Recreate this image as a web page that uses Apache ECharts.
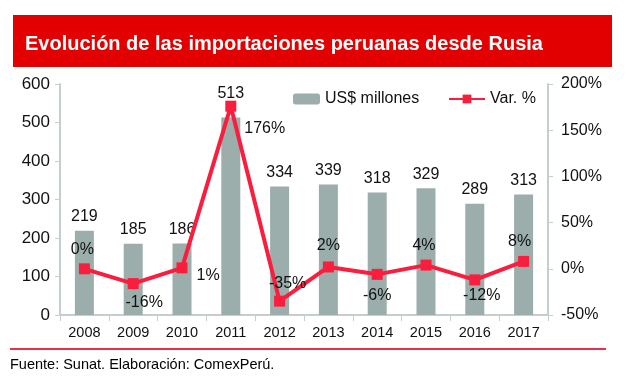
<!DOCTYPE html>
<html><head><meta charset="utf-8">
<script src="https://cdn.jsdelivr.net/npm/echarts@6/dist/echarts.min.js"></script>
<style>html,body{margin:0;padding:0;background:#fff}#c{width:630px;height:381px}</style>
</head><body><div id="c"></div>
<script>
var years = ['2008','2009','2010','2011','2012','2013','2014','2015','2016','2017'];
var importsUSD = [219,185,186,513,334,339,318,329,289,313];
var varPct = [0,-16,1,176,-35,2,-6,4,-12,8];
var leftTicks = [0,100,200,300,400,500,600];
var rightTicks = [-50,0,50,100,150,200];

var labelCfg = [
  {position:'top', offset:[-2,0]},
  {position:'bottom', offset:[11,0]},
  {position:'right', offset:[3,8]},
  {position:'right', offset:[2,22]},
  {position:'top', offset:[8,2]},
  {position:'top', offset:[0,-2]},
  {position:'bottom', offset:[0,2]},
  {position:'top', offset:[-2,0]},
  {position:'bottom', offset:[7,-4]},
  {position:'top', offset:[-4,0]}
];

var font = 'Liberation Sans, Arial, sans-serif';
var chart = echarts.init(document.getElementById('c'));
chart.setOption({
  animation:false,
  textStyle:{fontFamily:font},
  title:{text:'Evolución de las importaciones peruanas desde Rusia', left:20, top:29,
    textStyle:{color:'#fff', fontSize:20, fontWeight:'bold', fontFamily:font}},
  graphic:[
    {type:'rect', z:-1, shape:{x:13,y:15,width:599,height:52}, style:{fill:'#E30000'}},
    {type:'line', shape:{x1:10,y1:349,x2:606,y2:349}, style:{stroke:'#E8304A', lineWidth:2}},
    {type:'text', left:10, top:357, style:{text:'Fuente: Sunat. Elaboración: ComexPerú.', fill:'#000', font:'14.5px '+font}}
  ],
  legend:[
    {data:['US$ millones'], left:288, top:86, itemWidth:27, itemHeight:11, itemGap:5,
     textStyle:{fontSize:16, color:'#111', fontFamily:font}},
    {data:['Var. %'], left:443, top:86, itemWidth:36, itemHeight:11, itemGap:1,
     textStyle:{fontSize:16, color:'#111', fontFamily:font}}
  ],
  grid:{left:60, right:82, top:84, bottom:66},
  xAxis:{type:'category', data:years,
    axisLine:{lineStyle:{color:'#C5CECC', width:2}},
    axisTick:{show:true, alignWithLabel:false, length:6, lineStyle:{color:'#C5CECC', width:1}},
    axisLabel:{color:'#111', fontSize:14.5, margin:10, fontFamily:font}},
  yAxis:[
    {type:'value', min:0, max:600, interval:100,
     axisLine:{show:true, lineStyle:{color:'#C5CECC', width:2}},
     axisTick:{show:true, length:5, lineStyle:{color:'#C5CECC'}},
     splitLine:{show:false},
     axisLabel:{color:'#111', fontSize:17, margin:10, fontFamily:font}},
    {type:'value', min:-50, max:200, interval:50, position:'right',
     axisLine:{show:true, lineStyle:{color:'#C5CECC', width:2}},
     axisTick:{show:true, length:5, lineStyle:{color:'#C5CECC'}},
     splitLine:{show:false},
     axisLabel:{color:'#111', fontSize:16, margin:13, fontFamily:font, formatter:'{value}%'}}
  ],
  series:[
    {name:'US$ millones', type:'bar', yAxisIndex:0, barWidth:19,
     itemStyle:{color:'#9BAEAB'},
     data:importsUSD.map(function(v,i){
       var d={value:v};
       if(i===3) d.label={distance:16};
       return d;}),
     label:{show:true, position:'top', distance:6, color:'#111', fontSize:16, fontFamily:font}},
    {name:'Var. %', type:'line', yAxisIndex:1, symbol:'rect', symbolSize:11,
     lineStyle:{color:'#FA1E3E', width:4}, itemStyle:{color:'#FA1E3E'},
     data:varPct.map(function(v,i){
       return {value:v, label:{position:labelCfg[i].position, offset:labelCfg[i].offset}};}),
     label:{show:true, color:'#111', fontSize:16, fontFamily:font, distance:6,
       formatter:function(p){return p.value+'%';}}}
  ]
});
</script></body></html>
